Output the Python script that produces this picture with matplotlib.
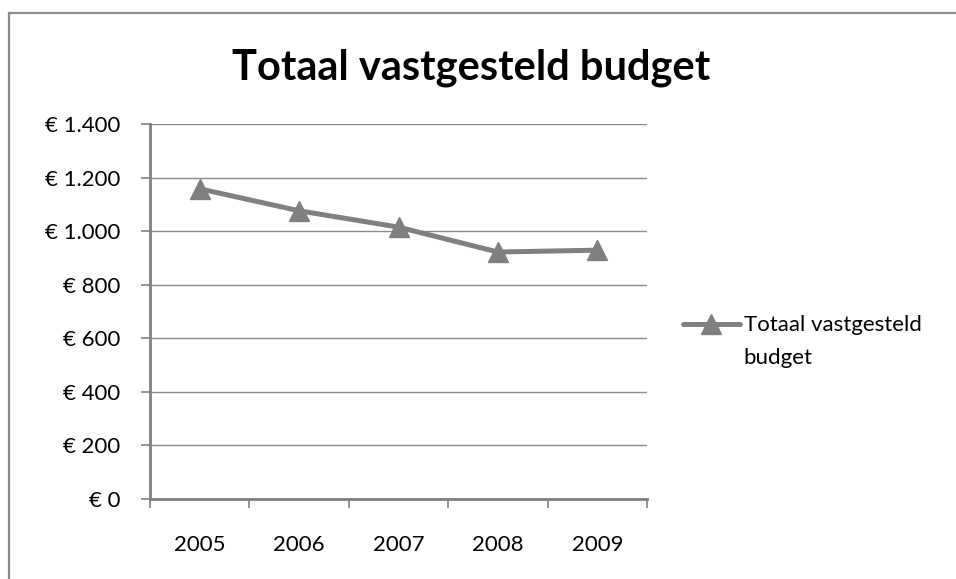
import matplotlib
matplotlib.use("Agg")
import matplotlib.pyplot as plt
from matplotlib.lines import Line2D
from matplotlib.legend_handler import HandlerLine2D
from matplotlib.ticker import FuncFormatter, MultipleLocator

years = ["2005", "2006", "2007", "2008", "2009"]
budget = [1158, 1076, 1015, 922, 929]
series_label = "Totaal vastgesteld\nbudget"
title = "Totaal vastgesteld budget"

plt.rcParams['font.family'] = ['Lato', 'DejaVu Sans']

fig = plt.figure(figsize=(9.56, 5.79), dpi=100)
ax = fig.add_axes([150/956, 1-499/579, (647-150)/956, (499-124)/579])

gray = "#808080"
x = list(range(len(years)))
ax.plot(x, budget, color=gray, lw=3.6, marker="^", markersize=14,
        markeredgecolor=gray, markerfacecolor=gray, label=series_label,
        solid_joinstyle="round", solid_capstyle="round")

ax.set_xlim(-0.5, len(years) - 0.5)
ax.set_ylim(0, 1400)
ax.yaxis.set_major_locator(MultipleLocator(200))

def euro(v, pos):
    s = f"{int(round(v)):,}".replace(",", ".")
    return f"€ {s}"
ax.yaxis.set_major_formatter(FuncFormatter(euro))

ax.set_xticks([i - 0.5 for i in range(len(years) + 1)])
ax.set_xticklabels([])
ax.set_xticks(x, minor=True)
ax.set_xticklabels(years, minor=True)
ax.tick_params(axis="x", which="major", length=6.5, width=1.2, color=gray, direction="out")
ax.tick_params(axis="x", which="minor", length=0, pad=26, labelsize=16)
ax.tick_params(axis="y", length=6.5, width=1.2, color=gray, pad=15, labelsize=16)

ax.grid(axis="y", color="#8c8c8c", lw=1.0)
ax.set_axisbelow(True)
for s in ["top", "right"]:
    ax.spines[s].set_visible(False)
for s in ["left", "bottom"]:
    ax.spines[s].set_color(gray)
    ax.spines[s].set_linewidth(2)

fig.text(471/956, 1-68/579, title, ha="center", va="center",
         fontsize=30, fontweight="bold")


class TopLineHandler(HandlerLine2D):
    def create_artists(self, legend, orig_handle, xdescent, ydescent,
                       width, height, fontsize, trans):
        arts = super().create_artists(legend, orig_handle, xdescent, ydescent,
                                      width, height, fontsize, trans)
        for a in arts:
            a.set_ydata([y + 12.6 for y in a.get_ydata()])
        return arts


leg = ax.legend(loc="center left", bbox_to_anchor=(1.0, 0.42), frameon=False,
                fontsize=16, handlelength=2.6, handletextpad=0.15,
                borderaxespad=1.2,
                handler_map={Line2D: TopLineHandler()})
for t in leg.get_texts():
    t.set_linespacing(1.85)

border = dict(color="#8c8c8c", lw=1.6, transform=fig.transFigure)
fig.add_artist(Line2D([9/956, 9/956], [-0.05, 1-12.5/579], **border))
fig.add_artist(Line2D([9/956, 1.05], [1-12.5/579, 1-12.5/579], **border))

fig.savefig("out.png", dpi=100, facecolor="white")
